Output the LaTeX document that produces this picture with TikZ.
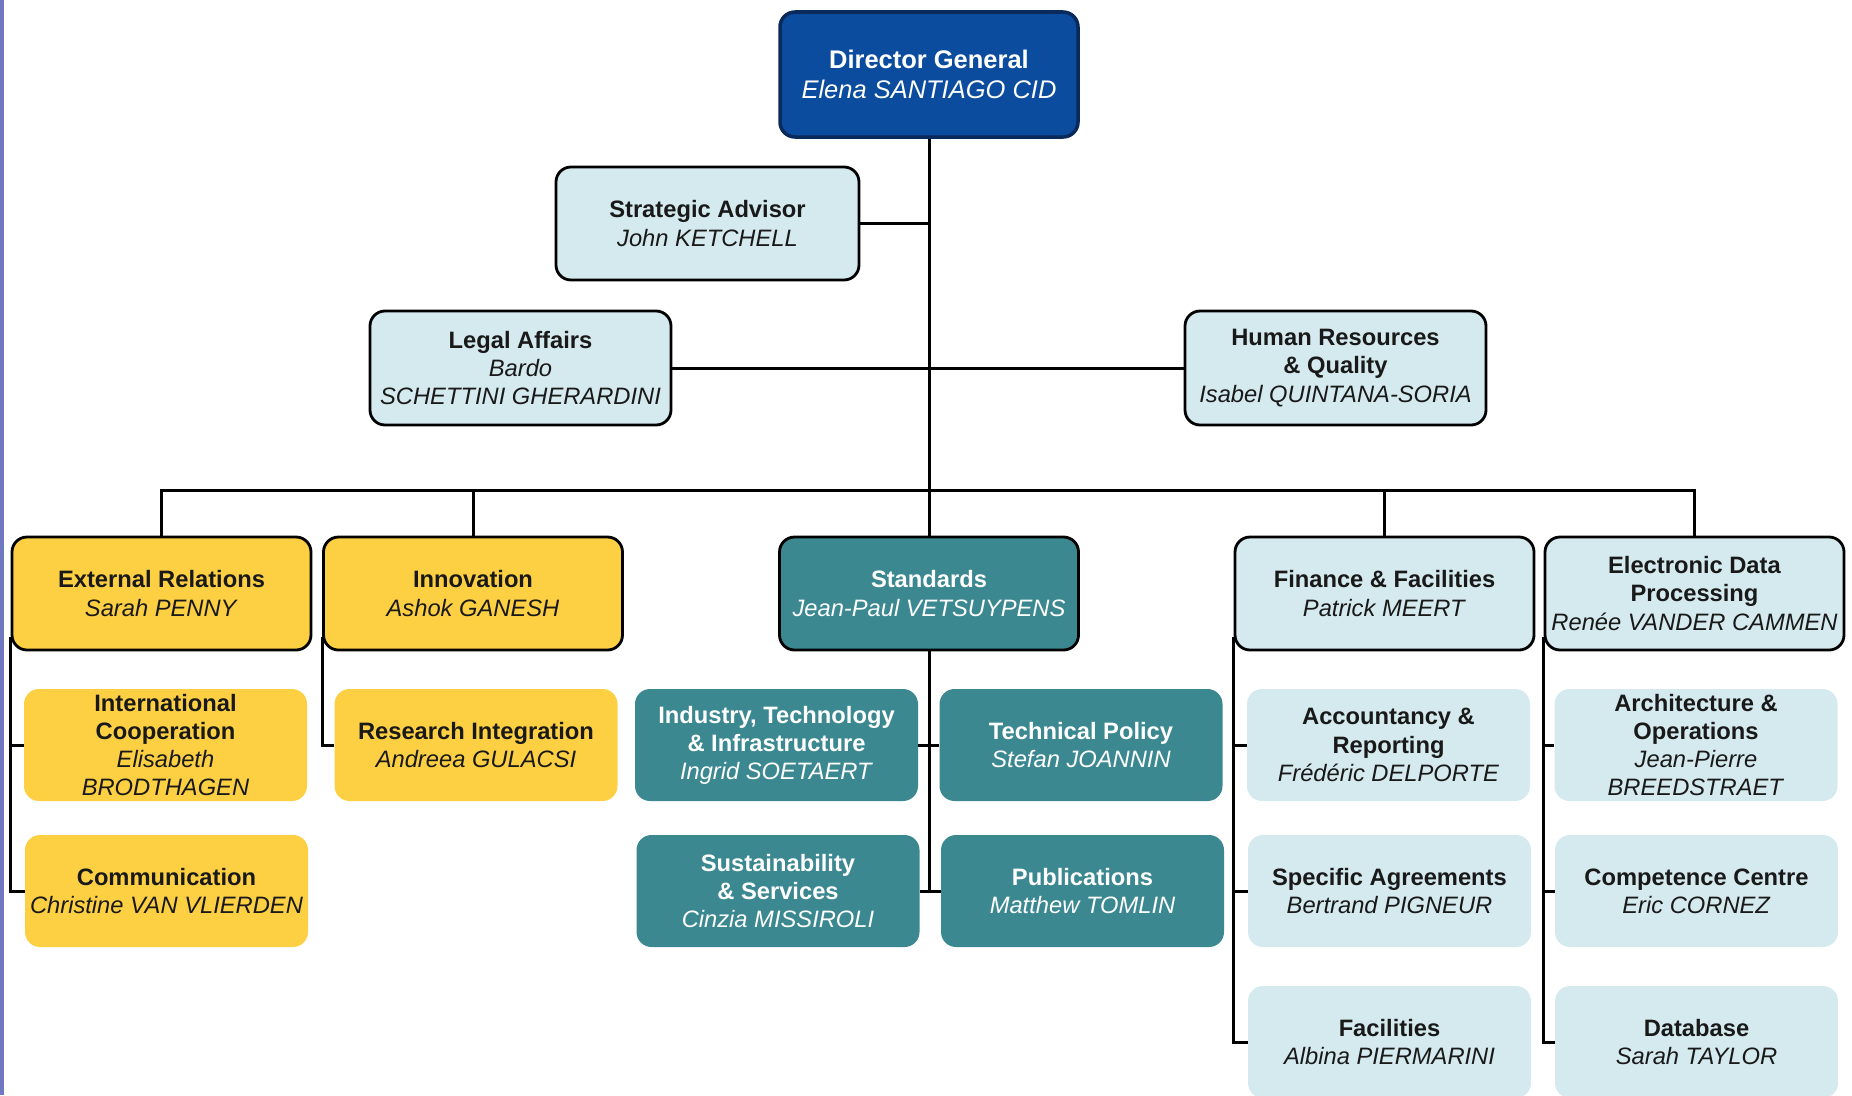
\documentclass[tikz,border=0pt]{standalone}
\usepackage{fontspec}
\setmainfont{Liberation Sans}
\definecolor{dgblue}{HTML}{0B4C9E}
\definecolor{dgedge}{HTML}{0A2A5C}
\definecolor{gold}{HTML}{FDD043}
\definecolor{stdteal}{HTML}{3B8891}
\definecolor{pale}{HTML}{D5EAEF}
\definecolor{frameblue}{HTML}{6F78C0}
\tikzset{
  unit/.style={rounded corners=0.3cm, align=center, inner sep=1pt, text=black!90,
    font=\fontsize{13.5}{16}\selectfont, minimum width=5.66cm, minimum height=2.24cm},
  head/.style={unit, draw=black, line width=1.6pt, minimum width=5.98cm, minimum height=2.26cm},
  board/.style={head, minimum width=6.02cm, minimum height=2.28cm, fill=pale},
  link/.style={line width=1.7pt, black}
}
\begin{document}
\begin{tikzpicture}
            \useasboundingbox (0,0) rectangle (37.04,-21.9);
            \clip (0,0) rectangle (37.04,-21.9);
            \fill[frameblue] (0,0) rectangle (0.09,-21.9);

            \node[head, fill=dgblue, draw=dgedge, line width=2pt, text=white, font=\fontsize{14.5}{17.4}\selectfont, minimum width=5.96cm, minimum height=2.5cm] (dg) at (18.58,-1.49) {\textbf{Director General}\\\textit{Elena SANTIAGO CID}};
            \node[board, minimum width=6.06cm, minimum height=2.26cm] (sa) at (14.15,-4.47) {\textbf{Strategic Advisor}\\\textit{John KETCHELL}};
            \node[board] (la) at (10.41,-7.36) {\textbf{Legal Affairs}\\\textit{Bardo}\\\textit{SCHETTINI GHERARDINI}};
            \node[board] (hr) at (26.71,-7.36) {\textbf{Human Resources}\\\textbf{\& Quality}\\\textit{Isabel QUINTANA-SORIA}};

            \node[head, fill=gold] (er) at (3.23,-11.87) {\textbf{External Relations}\\\textit{Sarah PENNY}};
            \node[head, fill=gold] (inn) at (9.46,-11.87) {\textbf{Innovation}\\\textit{Ashok GANESH}};
            \node[head, fill=stdteal, text=white] (std) at (18.58,-11.87) {\textbf{Standards}\\\textit{Jean-Paul VETSUYPENS}};
            \node[head, fill=pale] (ff) at (27.69,-11.87) {\textbf{Finance \& Facilities}\\\textit{Patrick MEERT}};
            \node[head, fill=pale] (edp) at (33.89,-11.87) {\textbf{Electronic Data}\\\textbf{Processing}\\\textit{Renée VANDER CAMMEN}};

            \node[unit, fill=gold] (ic) at (3.31,-14.90) {\textbf{International}\\\textbf{Cooperation}\\\textit{Elisabeth}\\\textit{BRODTHAGEN}};
            \node[unit, fill=gold] (com) at (3.33,-17.82) {\textbf{Communication}\\\textit{Christine VAN VLIERDEN}};
            \node[unit, fill=gold] (ri) at (9.52,-14.90) {\textbf{Research Integration}\\\textit{Andreea GULACSI}};

            \node[unit, fill=stdteal, text=white] (itt) at (15.53,-14.90) {\textbf{Industry, Technology}\\\textbf{\& Infrastructure}\\\textit{Ingrid SOETAERT}};
            \node[unit, fill=stdteal, text=white] (tp) at (21.62,-14.90) {\textbf{Technical Policy}\\\textit{Stefan JOANNIN}};
            \node[unit, fill=stdteal, text=white] (ss) at (15.56,-17.82) {\textbf{Sustainability}\\\textbf{\& Services}\\\textit{Cinzia MISSIROLI}};
            \node[unit, fill=stdteal, text=white] (pub) at (21.65,-17.82) {\textbf{Publications}\\\textit{Matthew TOMLIN}};

            \node[unit, fill=pale] (acc) at (27.77,-14.90) {\textbf{Accountancy \&}\\\textbf{Reporting}\\\textit{Frédéric DELPORTE}};
            \node[unit, fill=pale] (spa) at (27.79,-17.82) {\textbf{Specific Agreements}\\\textit{Bertrand PIGNEUR}};
            \node[unit, fill=pale] (fac) at (27.79,-20.84) {\textbf{Facilities}\\\textit{Albina PIERMARINI}};

            \node[unit, fill=pale] (arc) at (33.92,-14.90) {\textbf{Architecture \&}\\\textbf{Operations}\\\textit{Jean-Pierre}\\\textit{BREEDSTRAET}};
            \node[unit, fill=pale] (cc) at (33.93,-17.82) {\textbf{Competence Centre}\\\textit{Eric CORNEZ}};
            \node[unit, fill=pale] (db) at (33.93,-20.84) {\textbf{Database}\\\textit{Sarah TAYLOR}};

            \coordinate (busL) at (er.north |- 0,-9.8);
            \coordinate (busR) at (edp.north |- 0,-9.8);

            \begin{scope}[on background layer/.try]
            \draw[link] (dg.south) -- (std.north);
            \draw[link] (sa.east) -- (sa.east -| dg.south);
            \draw[link] (la.east) -- (hr.west);
            \draw[link] (er.north) -- (busL) -- (busR) -- (edp.north);
            \draw[link] (inn.north) -- (inn.north |- busL);
            \draw[link] (ff.north) -- (ff.north |- busL);
            \draw[link] ([yshift=8pt]er.south west) |- (com.west);
            \draw[link] (ic.west -| er.west) -- (ic.west);
            \draw[link] ([yshift=8pt]inn.south west) |- (ri.west);
            \draw[link] (std.south) -- (std.south |- ss.east);
            \draw[link] (itt.east) -- (tp.west);
            \draw[link] (ss.east) -- (pub.west);
            \draw[link] ([yshift=8pt]ff.south west) |- (fac.west);
            \draw[link] (acc.west -| ff.west) -- (acc.west);
            \draw[link] (spa.west -| ff.west) -- (spa.west);
            \draw[link] ([yshift=8pt]edp.south west) |- (db.west);
            \draw[link] (arc.west -| edp.west) -- (arc.west);
            \draw[link] (cc.west -| edp.west) -- (cc.west);
            \end{scope}
\end{tikzpicture}
\end{document}
